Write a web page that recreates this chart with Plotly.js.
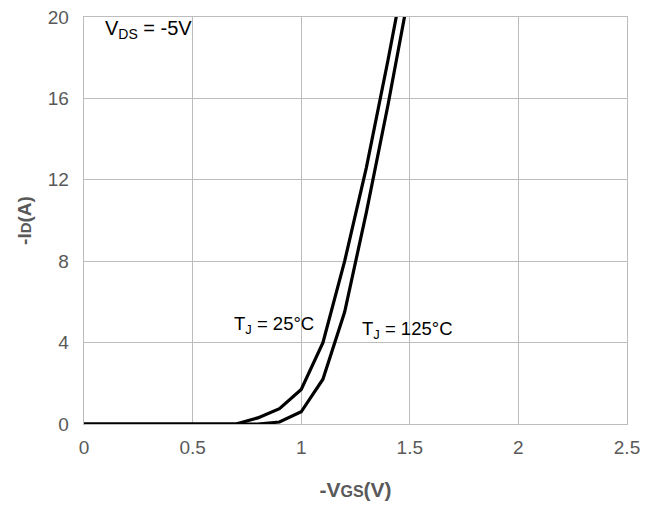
<!DOCTYPE html>
<html>
<head>
<meta charset="utf-8">
<script src="https://cdn.plot.ly/plotly-3.0.1.min.js"></script>
<style>html,body{margin:0;padding:0;background:#fff;}#chart{width:659px;height:507px;}</style>
</head>
<body>
<div id="chart"></div>
<script>
// -VGS (V)
const vgs25 = [0, 0.1, 0.2, 0.3, 0.4, 0.5, 0.6, 0.7, 0.8, 0.9, 1.0, 1.1, 1.2, 1.3, 1.4, 1.5];
const id25  = [0, 0, 0, 0, 0, 0, 0, 0, 0.3, 0.75, 1.7, 4.0, 8.0, 12.6, 17.9, 23.5];
const vgs125 = [0, 0.1, 0.2, 0.3, 0.4, 0.5, 0.6, 0.7, 0.8, 0.9, 1.0, 1.1, 1.2, 1.3, 1.4, 1.5];
const id125  = [0, 0, 0, 0, 0, 0, 0, 0, 0, 0.1, 0.6, 2.2, 5.5, 10.4, 15.7, 21.4];
const xTicks = [0, 0.5, 1, 1.5, 2, 2.5];
const xTickText = ['0', '0.5', '1', '1.5', '2', '2.5'];
const yTicks = [0, 4, 8, 12, 16, 20];

const FONT = 'Liberation Sans, Arial, sans-serif';
const lineStyle = {color: '#000', width: 3.2, shape: 'linear'};
const data = [
  {x: vgs25, y: id25, mode: 'lines', line: lineStyle, name: 'TJ = 25°C'},
  {x: vgs125, y: id125, mode: 'lines', line: lineStyle, name: 'TJ = 125°C'}
];
const tickFont = {family: FONT, size: 19, color: '#595959'};
const layout = {
  width: 659, height: 507,
  margin: {l: 84, r: 32, t: 17, b: 83},
  paper_bgcolor: '#fff', plot_bgcolor: '#fff',
  showlegend: false,
  xaxis: {
    range: [0, 2.5], tickvals: xTicks, ticktext: xTickText,
    showgrid: true, gridcolor: '#bcbcbc', gridwidth: 1.3,
    showline: true, linecolor: '#bcbcbc', linewidth: 1.3, mirror: true,
    zeroline: false, ticks: 'outside', ticklen: 6, tickcolor: 'rgba(0,0,0,0)',
    tickfont: tickFont,
    title: {text: '<b>-V<span style="font-size:16px">GS</span>(V)</b>', font: {family: FONT, size: 21, color: '#595959'}, standoff: 25}
  },
  yaxis: {
    range: [0, 20], tickvals: yTicks,
    showgrid: true, gridcolor: '#bcbcbc', gridwidth: 1.3,
    showline: true, linecolor: '#bcbcbc', linewidth: 1.3, mirror: true,
    zeroline: false, ticks: 'outside', ticklen: 10, tickcolor: 'rgba(0,0,0,0)',
    tickfont: tickFont,
    title: {text: '<b>-I<span style="font-size:15px">D</span>(A)</b>', font: {family: FONT, size: 19, color: '#595959'}, standoff: 11}
  },
  annotations: [
    {x: 0.0875, y: 19.4, xref: 'x', yref: 'y', xanchor: 'left', yanchor: 'middle', showarrow: false,
     text: 'V<sub>DS</sub> = -5V', font: {family: FONT, size: 20, color: '#000'}},
    {x: 0.681, y: 4.86, xref: 'x', yref: 'y', xanchor: 'left', yanchor: 'middle', showarrow: false,
     text: 'T<sub>J</sub> = 25°C', font: {family: FONT, size: 18.5, color: '#000'}},
    {x: 1.271, y: 4.62, xref: 'x', yref: 'y', xanchor: 'left', yanchor: 'middle', showarrow: false,
     text: 'T<sub>J</sub> = 125°C', font: {family: FONT, size: 18.5, color: '#000'}}
  ]
};
Plotly.newPlot('chart', data, layout, {displayModeBar: false, staticPlot: true});
</script>
</body>
</html>
